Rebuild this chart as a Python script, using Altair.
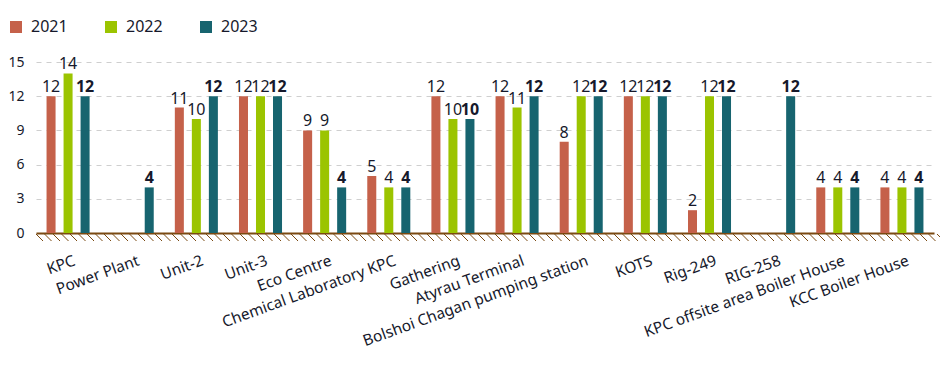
import altair as alt
import pandas as pd
import numpy as np

sites = ["KPC", "Power Plant", "Unit-2", "Unit-3", "Eco Centre",
         "Chemical Laboratory KPC", "Gathering", "Atyrau Terminal",
         "Bolshoi Chagan pumping station", "KOTS", "Rig-249", "RIG-258",
         "KPC offsite area Boiler House", "KCC Boiler House"]
years = ["2021", "2022", "2023"]
v2021 = [12, None, 11, 12, 9, 5, 12, 12, 8, 12, 2, None, 4, 4]
v2022 = [14, None, 10, 12, 9, 4, 10, 11, 12, 12, 12, None, 4, 4]
v2023 = [12, 4, 12, 12, 4, 4, 10, 12, 12, 12, 12, 12, 4, 4]
colors = ["#C5614A", "#9BC400", "#17646F"]
y_ticks = [0, 3, 6, 9, 12, 15]

rows = []
for yr, vals in zip(years, [v2021, v2022, v2023]):
    for s, v in zip(sites, vals):
        if v is not None:
            rows.append({"site": s, "year": yr, "value": v})
df = pd.DataFrame(rows)

W, H = 898, 171
BROWN = "#7B4A12"
TXT = "#16192b"
FONT = "Noto Sans"

# decorative hatching under the baseline
hx = np.arange(0, W + 6, 8.5)
hatch_df = pd.DataFrame({"h": hx, "h2": hx + 7})

x = alt.X("site:N", sort=sites,
          scale=alt.Scale(domain=sites, paddingInner=0, paddingOuter=0),
          axis=alt.Axis(title=None, labelAngle=-20, labelFontSize=15.5,
                        labelColor=TXT, labelFont=FONT, ticks=False,
                        domain=True, domainColor=BROWN, domainWidth=2,
                        labelPadding=20, labelOffset=4, grid=False,
                        labelLimit=400))
xo = alt.XOffset("year:N", sort=years,
                 scale=alt.Scale(domain=years, paddingInner=0.47,
                                 paddingOuter=0.62))
y = alt.Y("value:Q", scale=alt.Scale(domain=[0, 15], nice=False),
          axis=alt.Axis(title=None, values=y_ticks, grid=True,
                        gridDash=[5, 5], gridColor="#cfcfcf", domain=False,
                        ticks=False, labelFontSize=14, labelPadding=12,
                        labelColor=TXT, labelFont=FONT))

base = alt.Chart(df)

bars = base.mark_bar().encode(
    x=x, xOffset=xo, y=y,
    color=alt.Color("year:N", sort=years,
                    scale=alt.Scale(domain=years, range=colors),
                    legend=alt.Legend(title=None, orient="none",
                                      legendX=-28, legendY=-43,
                                      direction="horizontal",
                                      symbolType="square", symbolSize=144,
                                      symbolStrokeWidth=0,
                                      labelFontSize=16, labelFont=FONT,
                                      labelColor=TXT, labelOffset=7,
                                      columnPadding=35)),
)

labels_plain = base.transform_filter(alt.datum.year != "2023").mark_text(
    baseline="alphabetic", dy=-4, fontSize=16, font=FONT, color=TXT
).encode(x=x, xOffset=xo, y=y, text="value:Q")

labels_bold = base.transform_filter(alt.datum.year == "2023").mark_text(
    baseline="alphabetic", dy=-4, fontSize=16, font=FONT, color=TXT,
    fontWeight="bold"
).encode(x=x, xOffset=xo, y=y, text="value:Q")

main = alt.layer(bars, labels_plain, labels_bold)

hatch = alt.Chart(hatch_df).mark_rule(color=BROWN, strokeWidth=1).encode(
    x=alt.X("h:Q", scale=alt.Scale(domain=[0, W], nice=False, zero=False),
            axis=None),
    x2="h2:Q",
    y=alt.value(H + 1),
    y2=alt.value(H + 8),
)

chart = alt.layer(main, hatch).resolve_scale(
    x="independent"
).properties(
    width=W, height=H,
    padding={"left": 28, "top": 54, "right": 6, "bottom": 134},
    autosize=alt.AutoSizeParams(type="none"),
).configure_view(stroke=None)

chart.save("out.html", embed_options={"renderer": "svg", "actions": False})
